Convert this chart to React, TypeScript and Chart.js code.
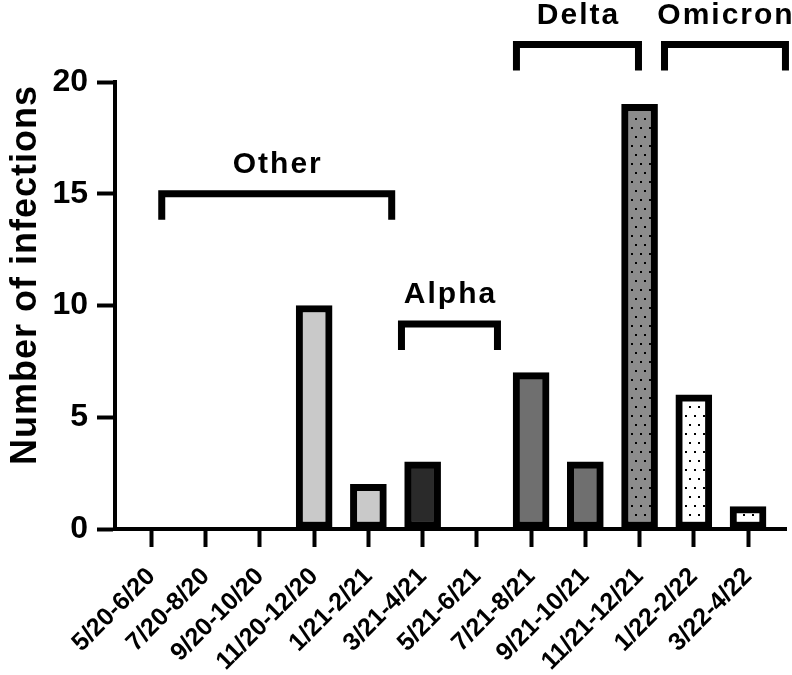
import { useEffect, useRef } from "react";
import { Chart, registerables } from "chart.js";

Chart.register(...registerables);

const categories = [
  "5/20-6/20",
  "7/20-8/20",
  "9/20-10/20",
  "11/20-12/20",
  "1/21-2/21",
  "3/21-4/21",
  "5/21-6/21",
  "7/21-8/21",
  "9/21-10/21",
  "11/21-12/21",
  "1/22-2/22",
  "3/22-4/22",
];
const infections = [0, 0, 0, 10, 2, 3, 0, 7, 3, 19, 6, 1];
const yTicks = [0, 5, 10, 15, 20];
const fillKinds = [
  "light", "light", "light", "light", "light",
  "dark", "dark",
  "mid", "mid",
  "midDots", "whiteDots", "whiteDots",
];

// Variant brackets (in data units of the two axes)
const variantNames = ["Other", "Alpha", "Delta", "Omicron"];
const variantFrom = [0.19, 4.61, 6.73, 9.46];
const variantTo = [4.43, 6.38, 8.98, 11.69];
const variantLevel = [15, 9.17, 21.68, 21.68];

const yTitle = "Number of infections";
const FONT = "'Liberation Sans', Arial, Helvetica, sans-serif";

function dotPattern(bg: string): CanvasPattern | string {
  const c = document.createElement("canvas");
  c.width = 18;
  c.height = 18;
  const g = c.getContext("2d");
  if (!g) return bg;
  g.fillStyle = bg;
  g.fillRect(0, 0, 18, 18);
  g.fillStyle = "#000";
  g.fillRect(1, 1, 2, 2);
  g.fillRect(10, 1, 2, 2);
  g.fillRect(5, 10, 2, 2);
  g.fillRect(14, 10, 2, 2);
  const p = g.createPattern(c, "repeat");
  return p || bg;
}

const bracketPlugin = {
  id: "variantBrackets",
  afterDraw(chart: any) {
    const ctx = chart.ctx as CanvasRenderingContext2D;
    const xs = chart.scales.x;
    const ys = chart.scales.y;
    ctx.save();
    ctx.strokeStyle = "#000";
    ctx.fillStyle = "#000";
    ctx.lineWidth = 7;
    ctx.lineJoin = "miter";
    ctx.lineCap = "butt";
    ctx.font = `bold 30px ${FONT}`;
    (ctx as any).letterSpacing = "2px";
    ctx.textAlign = "center";
    ctx.textBaseline = "middle";
    for (let i = 0; i < variantNames.length; i++) {
      const x1 = xs.getPixelForValue(variantFrom[i]);
      const x2 = xs.getPixelForValue(variantTo[i]);
      const y = ys.getPixelForValue(variantLevel[i]);
      ctx.beginPath();
      ctx.moveTo(x1, y + 26);
      ctx.lineTo(x1, y);
      ctx.lineTo(x2, y);
      ctx.lineTo(x2, y + 26);
      ctx.stroke();
      ctx.fillText(variantNames[i], (x1 + x2) / 2 + 1, y - 29);
    }
    // y-axis title
    ctx.font = `bold 36px ${FONT}`;
    (ctx as any).letterSpacing = "1px";
    ctx.translate(26, 275);
    ctx.rotate(-Math.PI / 2);
    ctx.fillText(yTitle, 0, 0);
    ctx.restore();
  },
};

export default function App() {
  const ref = useRef<HTMLCanvasElement>(null);
  useEffect(() => {
    if (!ref.current) return;
    const fills: Record<string, CanvasPattern | string> = {
      light: "#c9c9c9",
      dark: "#2a2a2a",
      mid: "#6f6f6f",
      midDots: dotPattern("#8c8c8c"),
      whiteDots: dotPattern("#ffffff"),
    };
    const chart = new Chart(ref.current, {
      type: "bar",
      data: {
        datasets: [
          {
            data: categories.map((_, i) => ({ x: i, y: infections[i] })),
            backgroundColor: fillKinds.map((k) => fills[k]) as any,
            borderColor: "#000",
            borderWidth: 7,
            borderSkipped: false,
            barThickness: 36,
          },
        ],
      },
      options: {
        animation: false,
        responsive: false,
        layout: { padding: { top: 82, right: 6, left: 0, bottom: 0 } },
        plugins: {
          legend: { display: false },
          tooltip: { enabled: false },
        },
        scales: {
          x: {
            type: "linear",
            offset: false,
            min: -0.672,
            max: 11.7,
            afterBuildTicks: (s: any) => {
              s.ticks = categories.map((_, i) => ({ value: i }));
            },
            afterFit: (s: any) => {
              s.height = 146;
            },
            ticks: {
              autoSkip: false,
              minRotation: 45,
              maxRotation: 45,
              padding: 15,
              color: "#000",
              font: { family: FONT, weight: "bold", size: 25 },
              callback: (v: any) => categories[v] ?? "",
            },
            grid: {
              offset: false,
              drawOnChartArea: false,
              drawTicks: true,
              tickLength: 18,
              tickWidth: 4,
              tickColor: "#000",
            },
            border: { display: true, color: "#000", width: 4 },
          },
          y: {
            min: 0,
            max: 20,
            afterBuildTicks: (s: any) => {
              s.ticks = yTicks.map((v) => ({ value: v }));
            },
            afterFit: (s: any) => {
              s.width = 115;
            },
            ticks: {
              padding: 9,
              color: "#000",
              font: { family: FONT, weight: "bold", size: 32 },
            },
            grid: {
              drawOnChartArea: false,
              drawTicks: true,
              tickLength: 18,
              tickWidth: 4,
              tickColor: "#000",
            },
            border: { display: true, color: "#000", width: 4 },
          },
        },
      } as any,
      plugins: [bracketPlugin],
    });
    return () => chart.destroy();
  }, []);
  return (
    <div style={{ position: "absolute", left: 0, top: 0, width: 792, height: 675, background: "#fff" }}>
      <canvas ref={ref} width={792} height={675} style={{ width: 792, height: 675, display: "block" }} />
    </div>
  );
}
